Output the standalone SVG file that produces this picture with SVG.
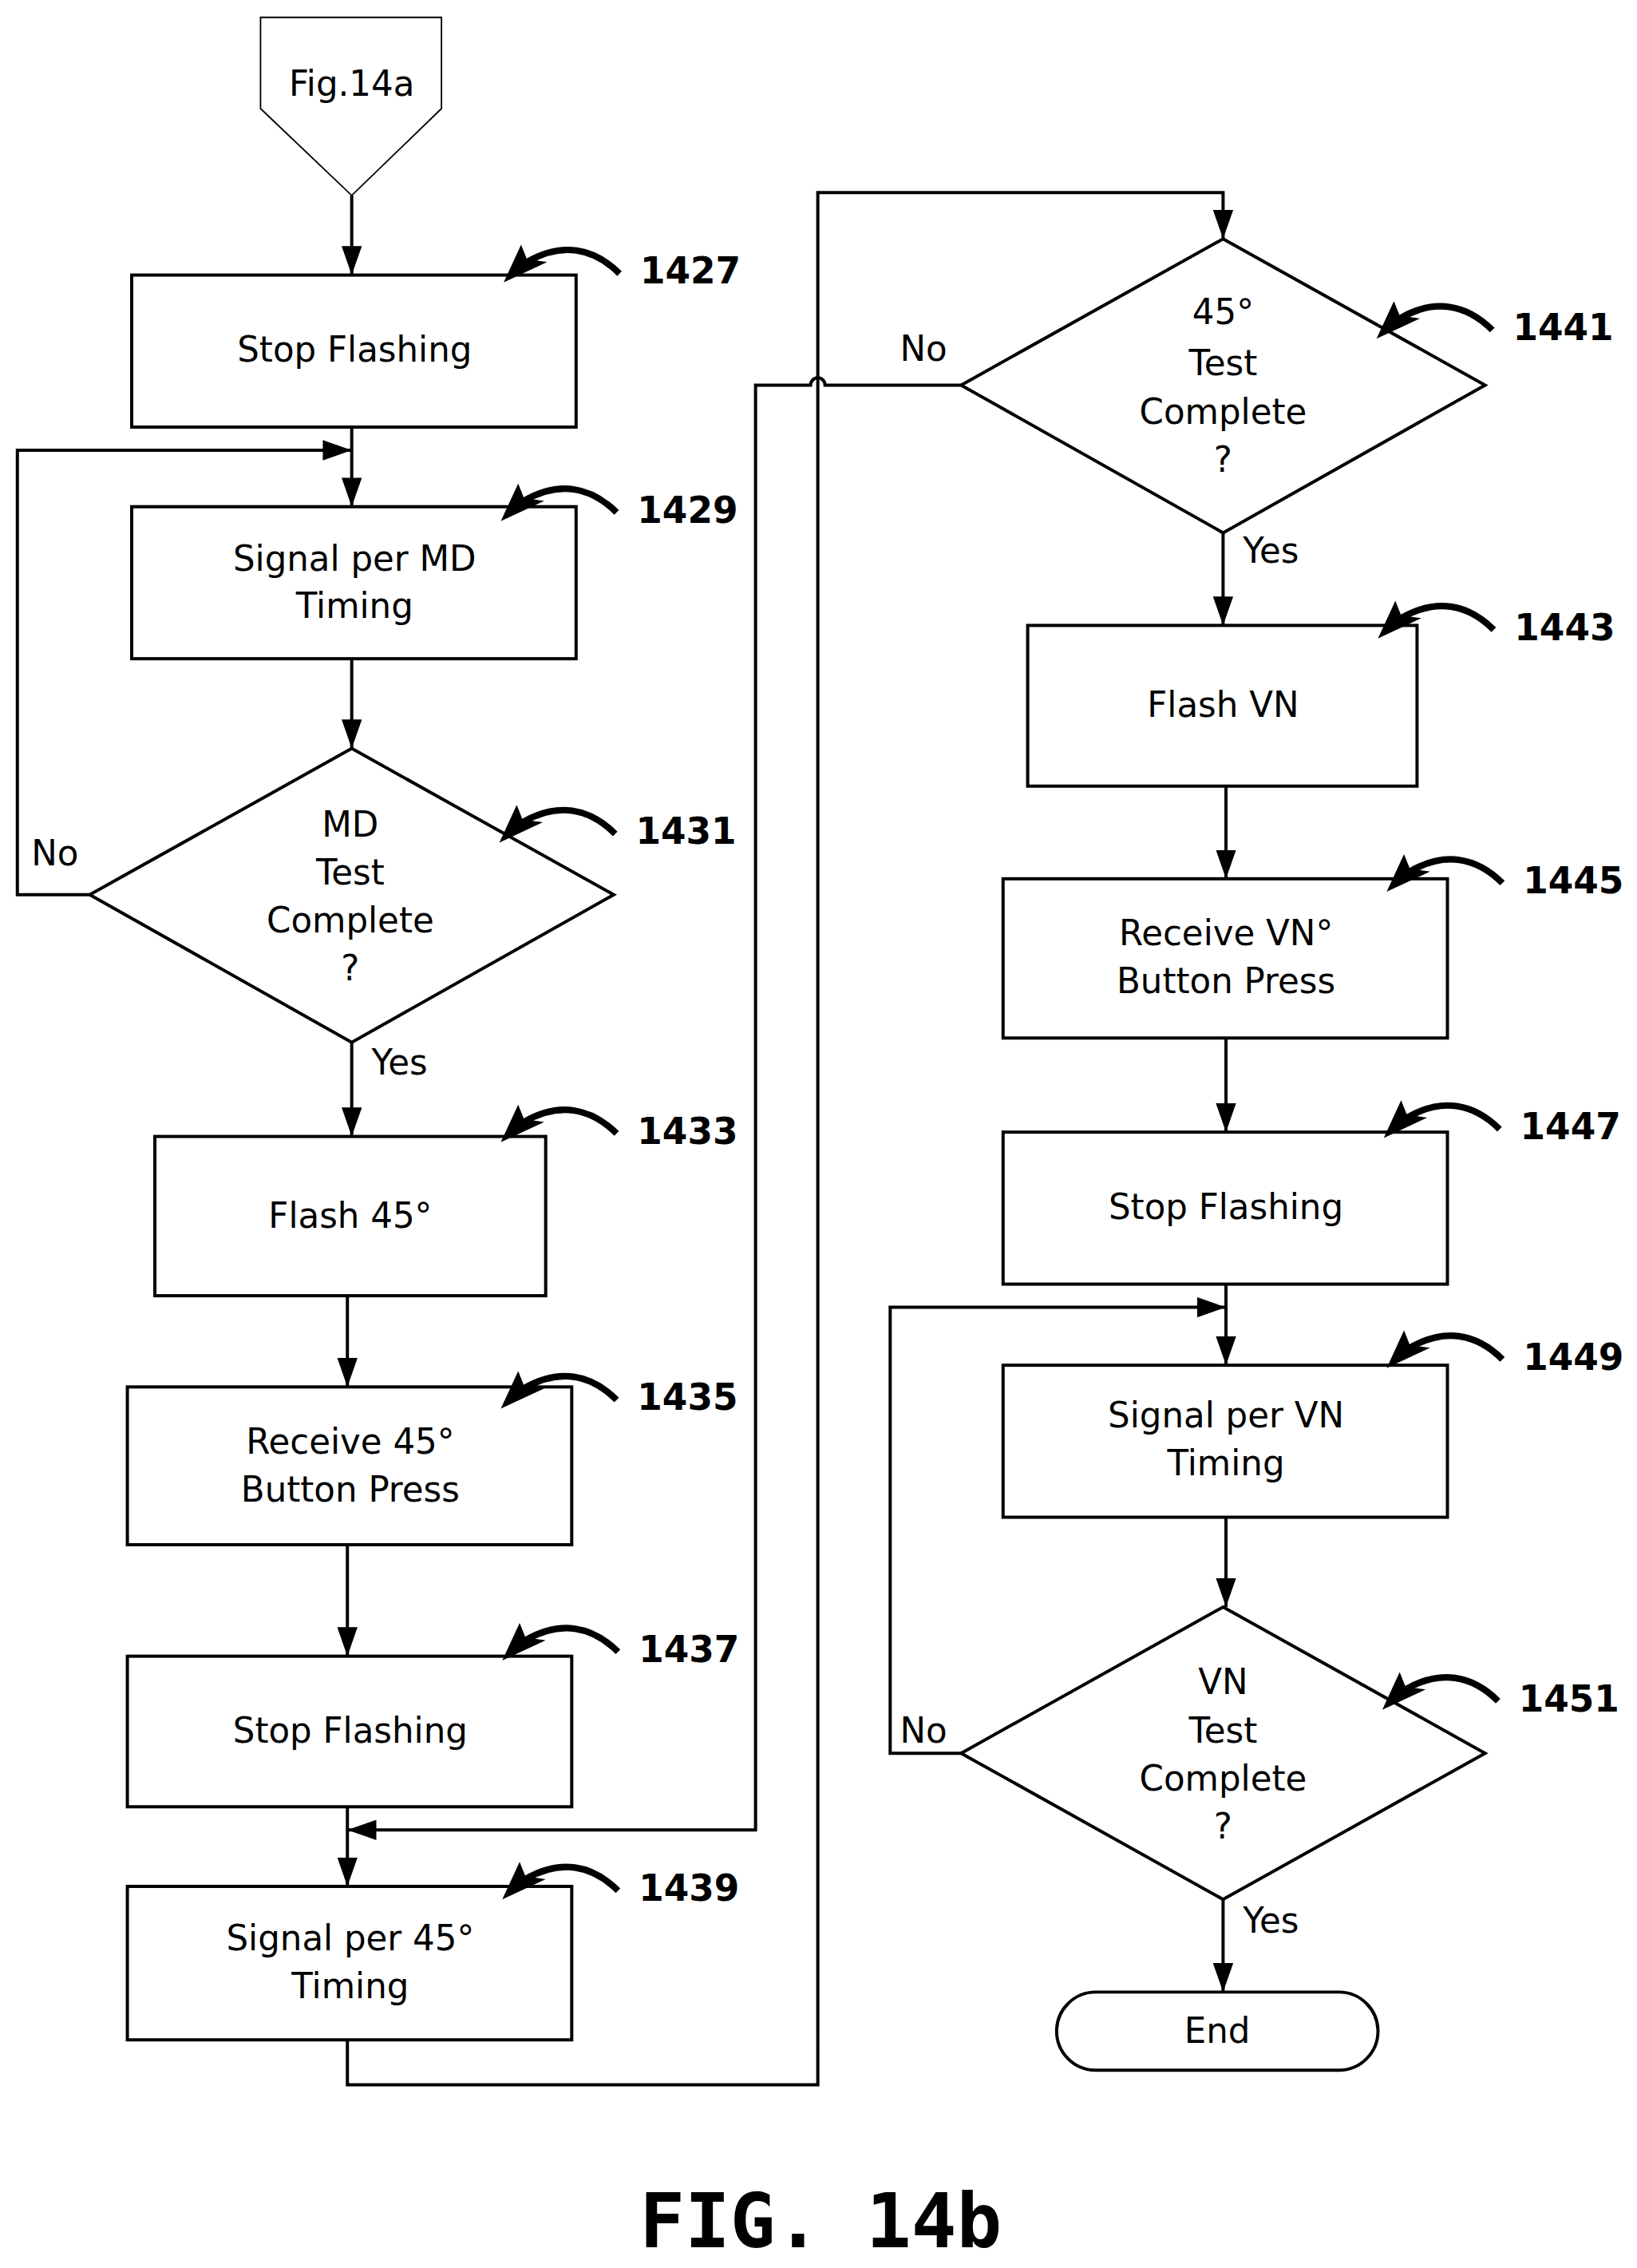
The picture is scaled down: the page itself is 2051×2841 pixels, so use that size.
<svg xmlns="http://www.w3.org/2000/svg" width="2051" height="2841" viewBox="0 0 2051 2841">
<style>
.b{fill:none;stroke:#000;stroke-width:2.2}
.c{fill:none;stroke:#000;stroke-width:2.2}
.t{font-family:"DejaVu Sans",sans-serif;font-size:24px;text-anchor:middle}
.n{font-family:"DejaVu Sans",sans-serif;font-size:25px;font-weight:bold;text-anchor:middle}
</style>
<defs>
<marker id="a" markerUnits="userSpaceOnUse" markerWidth="20" markerHeight="14" refX="20" refY="7" viewBox="0 0 20 14" orient="auto"><path d="M0,0 L20,7 L0,14 Z"/></marker>
<g id="r"><path d="M80,-4 C62,-22 40,-26 16,-12" fill="none" stroke="#000" stroke-width="4.5"/><path d="M0,2 L12,-24 L16,-14 L30,-12 Z"/></g>
</defs>
<rect width="2051" height="2841" fill="#fff"/>
<g transform="scale(1.8135)">
<g id="connectors">
<path class="c" d="M243,135 V190" marker-end="url(#a)"/>
<path class="c" d="M243,295 V350" marker-end="url(#a)"/>
<path class="c" d="M62,618 H12 V311 H243" marker-end="url(#a)"/>
<path class="c" d="M243,455 V517" marker-end="url(#a)"/>
<path class="c" d="M243,720 V785" marker-end="url(#a)"/>
<path class="c" d="M240,895 V958" marker-end="url(#a)"/>
<path class="c" d="M240,1067 V1144" marker-end="url(#a)"/>
<path class="c" d="M240,1248 V1303" marker-end="url(#a)"/>
<path class="c" d="M664,266 H570 A5,5 0 0 0 560,266 H522 V1264 H240" marker-end="url(#a)"/>
<path class="c" d="M240,1409 V1440 H565 V133 H845 V165" marker-end="url(#a)"/>
<path class="c" d="M845,368 V432" marker-end="url(#a)"/>
<path class="c" d="M847,543 V607" marker-end="url(#a)"/>
<path class="c" d="M847,717 V782" marker-end="url(#a)"/>
<path class="c" d="M847,887 V943" marker-end="url(#a)"/>
<path class="c" d="M664,1211 H615 V903 H847" marker-end="url(#a)"/>
<path class="c" d="M847,1048 V1110" marker-end="url(#a)"/>
<path class="c" d="M845,1312 V1376" marker-end="url(#a)"/>
</g>
<g id="fig14a"><path d="M180,12 H305 V75 L243,135 L180,75 Z" fill="none" stroke="#000" stroke-width="1"/><text class="t" x="243" y="66">Fig.14a</text></g>
<g id="n1427"><rect class="b" x="91" y="190" width="307" height="105"/><text class="t" x="245" y="250">Stop Flashing</text><use href="#r" x="348" y="193"/><text class="n" x="477" y="196">1427</text></g>
<g id="n1429"><rect class="b" x="91" y="350" width="307" height="105"/><text class="t" x="245" y="394">Signal per MD</text><text class="t" x="245" y="427">Timing</text><use href="#r" x="346" y="358"/><text class="n" x="475" y="361">1429</text></g>
<g id="n1431"><path class="b" d="M243,517 L424,618 L243,720 L62,618 Z"/><text class="t" x="242" y="578">MD</text><text class="t" x="242" y="611">Test</text><text class="t" x="242" y="644">Complete</text><text class="t" x="242" y="677">?</text><use href="#r" x="345" y="580"/><text class="n" x="474" y="583">1431</text><text class="t" x="38" y="598">No</text><text class="t" x="276" y="742">Yes</text></g>
<g id="n1433"><rect class="b" x="107" y="785" width="270" height="110"/><text class="t" x="242" y="848">Flash 45°</text><use href="#r" x="346" y="787"/><text class="n" x="475" y="790">1433</text></g>
<g id="n1435"><rect class="b" x="88" y="958" width="307" height="109"/><text class="t" x="242" y="1004">Receive 45°</text><text class="t" x="242" y="1037">Button Press</text><use href="#r" x="346" y="971"/><text class="n" x="475" y="974">1435</text></g>
<g id="n1437"><rect class="b" x="88" y="1144" width="307" height="104"/><text class="t" x="242" y="1204">Stop Flashing</text><use href="#r" x="347" y="1145"/><text class="n" x="476" y="1148">1437</text></g>
<g id="n1439"><rect class="b" x="88" y="1303" width="307" height="106"/><text class="t" x="242" y="1347">Signal per 45°</text><text class="t" x="242" y="1380">Timing</text><use href="#r" x="347" y="1310"/><text class="n" x="476" y="1313">1439</text></g>
<g id="n1441"><path class="b" d="M845,165 L1026,266 L845,368 L664,266 Z"/><text class="t" x="845" y="224">45°</text><text class="t" x="845" y="259">Test</text><text class="t" x="845" y="293">Complete</text><text class="t" x="845" y="326">?</text><use href="#r" x="951" y="232"/><text class="n" x="1080" y="235">1441</text><text class="t" x="638" y="249">No</text><text class="t" x="878" y="389">Yes</text></g>
<g id="n1443"><rect class="b" x="710" y="432" width="269" height="111"/><text class="t" x="845" y="495">Flash VN</text><use href="#r" x="952" y="439"/><text class="n" x="1081" y="442">1443</text></g>
<g id="n1445"><rect class="b" x="693" y="607" width="307" height="110"/><text class="t" x="847" y="653">Receive VN°</text><text class="t" x="847" y="686">Button Press</text><use href="#r" x="958" y="614"/><text class="n" x="1087" y="617">1445</text></g>
<g id="n1447"><rect class="b" x="693" y="782" width="307" height="105"/><text class="t" x="847" y="842">Stop Flashing</text><use href="#r" x="956" y="784"/><text class="n" x="1085" y="787">1447</text></g>
<g id="n1449"><rect class="b" x="693" y="943" width="307" height="105"/><text class="t" x="847" y="986">Signal per VN</text><text class="t" x="847" y="1019">Timing</text><use href="#r" x="958" y="943"/><text class="n" x="1087" y="946">1449</text></g>
<g id="n1451"><path class="b" d="M845,1110 L1026,1211 L845,1312 L664,1211 Z"/><text class="t" x="845" y="1170">VN</text><text class="t" x="845" y="1204">Test</text><text class="t" x="845" y="1237">Complete</text><text class="t" x="845" y="1270">?</text><use href="#r" x="955" y="1179"/><text class="n" x="1084" y="1182">1451</text><text class="t" x="638" y="1204">No</text><text class="t" x="878" y="1335">Yes</text></g>
<g id="end"><rect class="b" x="730" y="1376" width="222" height="54" rx="27"/><text class="t" x="841" y="1411">End</text></g>
<text x="567" y="1552" font-family="DejaVu Sans Mono,monospace" font-weight="bold" font-size="52" text-anchor="middle">FIG. 14b</text>
</g>
</svg>
